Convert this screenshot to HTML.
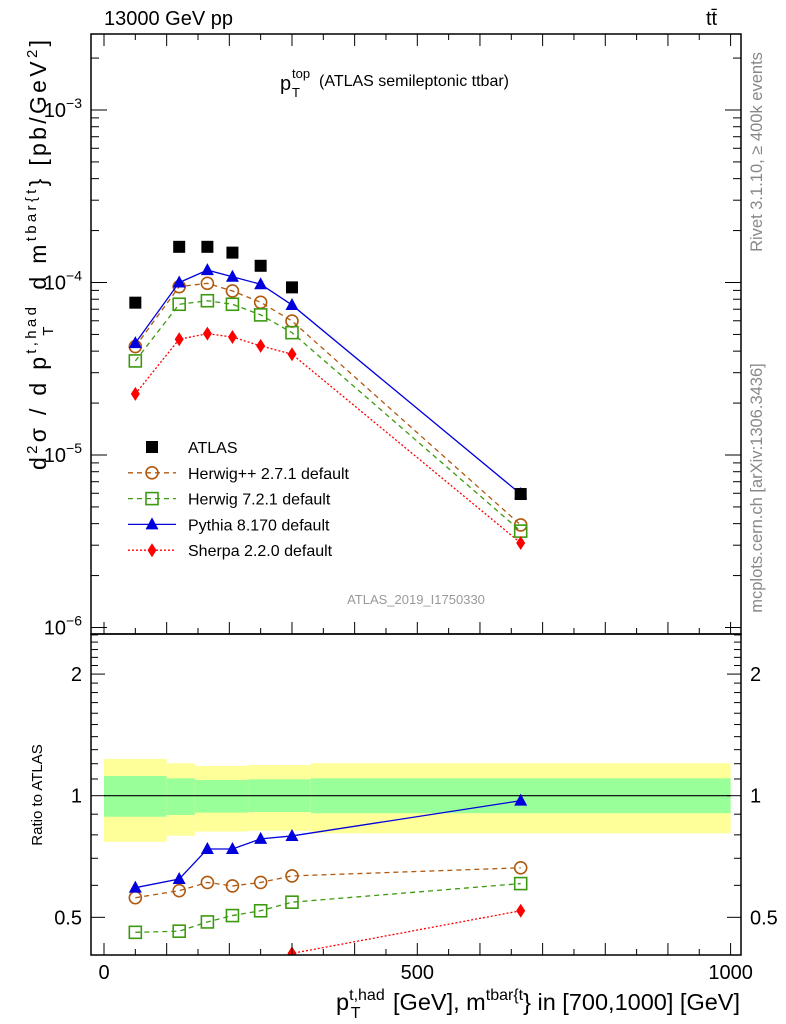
<!DOCTYPE html>
<html><head><meta charset="utf-8"><style>
html,body{margin:0;padding:0;background:#fff;}
svg{display:block;font-family:"Liberation Sans",sans-serif;}
</style></head><body>
<svg id="c" width="786" height="1024" viewBox="0 0 786 1024">
<rect x="0" y="0" width="786" height="1024" fill="#fff"/>
<g id="ratioBands"></g>
<g id="marks"></g>
<g id="axes" stroke="#000" fill="none"></g>
<text x="104" y="25" font-size="20">13000 GeV pp</text>
<text x="706" y="25" font-size="20">tt̄</text>
<text x="280" y="90" font-size="20">p</text>
<text x="292" y="78" font-size="13">top</text>
<text x="292" y="97" font-size="13">T</text>
<text x="319" y="86" font-size="16">(ATLAS semileptonic ttbar)</text>
<text x="416" y="604" font-size="13" fill="#999" text-anchor="middle">ATLAS_2019_I1750330</text>
<text transform="translate(762,152) rotate(-90)" font-size="16.5" fill="#888" text-anchor="middle">Rivet 3.1.10, ≥ 400k events</text>
<text transform="translate(762,488) rotate(-90)" font-size="16.5" fill="#888" text-anchor="middle">mcplots.cern.ch [arXiv:1306.3436]</text>
<text transform="translate(46,470) rotate(-90)" font-size="23" text-anchor="start" textLength="430" lengthAdjust="spacing">d<tspan font-size="15" baseline-shift="9">2</tspan>σ / d p<tspan font-size="15" baseline-shift="10">t,had</tspan><tspan font-size="15" baseline-shift="-7" dx="-32">T</tspan><tspan dx="24"> d m</tspan><tspan font-size="15" baseline-shift="10">tbar{t</tspan>} [pb/GeV<tspan font-size="15" baseline-shift="9">2</tspan>]</text>
<text transform="translate(42,795) rotate(-90)" font-size="15" text-anchor="middle">Ratio to ATLAS</text>
<text x="740" y="1010" font-size="23.5" text-anchor="end">p<tspan font-size="16" baseline-shift="10">t,had</tspan><tspan font-size="16" baseline-shift="-8" dx="-34">T</tspan><tspan dx="26"> [GeV], m</tspan><tspan font-size="16" baseline-shift="10">tbar{t</tspan>} in [700,1000] [GeV]</text>
<g id="legend"></g>
</svg>
<script>
const xs = [50, 120, 165, 205, 250, 300, 665];
const atlas = [7.64e-5, 1.61e-4, 1.61e-4, 1.49e-4, 1.25e-4, 9.37e-5, 5.94e-6];
const herwigpp = [4.25e-5, 9.46e-5, 9.89e-5, 8.93e-5, 7.68e-5, 5.98e-5, 3.93e-6];
const herwig7 = [3.51e-5, 7.48e-5, 7.84e-5, 7.48e-5, 6.49e-5, 5.12e-5, 3.62e-6];
const pythia = [4.45e-5, 1.00e-4, 1.18e-4, 1.08e-4, 9.77e-5, 7.41e-5, 5.94e-6];
const sherpa = [2.26e-5, 4.69e-5, 5.05e-5, 4.83e-5, 4.29e-5, 3.84e-5, 3.09e-6];
const rHerwigpp = [0.559, 0.582, 0.610, 0.598, 0.610, 0.633, 0.663];
const rHerwig7 = [0.459, 0.462, 0.487, 0.505, 0.519, 0.545, 0.606];
const rPythia = [0.592, 0.622, 0.738, 0.738, 0.782, 0.795, 0.972];
const rSherpa = [0.25, 0.3, 0.3, 0.3, 0.3, 0.407, 0.519];
const bandEdges = [0, 100, 145, 230, 330, 1000];
const yellowHi = [1.233, 1.203, 1.185, 1.191, 1.203];
const greenHi = [1.119, 1.104, 1.094, 1.098, 1.104];
const greenLo = [0.887, 0.896, 0.908, 0.911, 0.905];
const yellowLo = [0.769, 0.796, 0.815, 0.819, 0.807];
const NS='http://www.w3.org/2000/svg';
const L=91,R=741,T=34,MB=634,RB=955;
const X=v=>104+v*0.6266;
const Y=v=>110-(Math.log10(v)+3)*172.5;
const YR=v=>795.7-Math.log10(v)*404;
function mk(tag,at,parent){const e=document.createElementNS(NS,tag);for(const k in at)e.setAttribute(k,at[k]);parent.appendChild(e);return e;}
const bands=document.getElementById('ratioBands'),marks=document.getElementById('marks'),axes=document.getElementById('axes'),leg=document.getElementById('legend');
for(let i=0;i<yellowHi.length;i++){
 const x1=X(bandEdges[i]),x2=X(bandEdges[i+1]);
 const y=mk('rect',{x:x1,y:YR(yellowHi[i]),width:x2-x1,height:YR(yellowLo[i])-YR(yellowHi[i]),fill:'#ffff99'},bands);
 
 
 const g=mk('rect',{x:x1,y:YR(greenHi[i]),width:x2-x1,height:YR(greenLo[i])-YR(greenHi[i]),fill:'#99ff99'},bands);
 
 
}
const clip=mk('clipPath',{id:'cr'},document.getElementById('c'));mk('rect',{x:L,y:MB,width:R-L,height:RB-MB},clip);
const ref=mk('line',{x1:X(0),x2:X(1000),y1:YR(1),y2:YR(1),stroke:'#000','stroke-width':1.2},marks);


function marker(kind,x,y,col,p){
 let e;
 if(kind==='sq')e=mk('rect',{x:x-6,y:y-6,width:12,height:12,fill:'#000'},p);
 else if(kind==='circ')e=mk('circle',{cx:x,cy:y,r:6,fill:'none',stroke:col,'stroke-width':1.6},p);
 else if(kind==='osq')e=mk('rect',{x:x-6,y:y-6,width:12,height:12,fill:'none',stroke:col,'stroke-width':1.6},p);
 else if(kind==='tri')e=mk('polygon',{points:`${x},${y-7} ${x-6.5},${y+5} ${x+6.5},${y+5}`,fill:col},p);
 else e=mk('polygon',{points:`${x},${y-7} ${x-4.5},${y} ${x},${y+7} ${x+4.5},${y}`,fill:col},p);
 return e;
}
const series=[
 {name:'herwigpp',label:'Herwig++ 2.7.1 default',m:herwigpp,r:rHerwigpp,col:'#b05a10',dash:'5,4',mk:'circ'},
 {name:'herwig7',label:'Herwig 7.2.1 default',m:herwig7,r:rHerwig7,col:'#3c9a10',dash:'5,4',mk:'osq'},
 {name:'pythia',label:'Pythia 8.170 default',m:pythia,r:rPythia,col:'#0000dd',dash:'',mk:'tri'},
 {name:'sherpa',label:'Sherpa 2.2.0 default',m:sherpa,r:rSherpa,col:'#ff0000',dash:'2,2',mk:'dia'}];
series.forEach(s=>{
 const g=mk('g',{},marks);
 
 
 const pl=mk('polyline',{points:xs.map((x,i)=>X(x)+','+Y(s.m[i])).join(' '),fill:'none',stroke:s.col,'stroke-width':1.3,'stroke-dasharray':s.dash},g);
 
 
 xs.forEach((x,i)=>{const e=marker(s.mk,X(x),Y(s.m[i]),s.col,g);
  
  });
 const gr=mk('g',{'clip-path':'url(#cr)'},marks);
 
 
 mk('polyline',{points:xs.map((x,i)=>X(x)+','+YR(s.r[i])).join(' '),fill:'none',stroke:s.col,'stroke-width':1.3,'stroke-dasharray':s.dash},gr);
 xs.forEach((x,i)=>{const e=marker(s.mk,X(x),YR(s.r[i]),s.col,gr);
  
  });
});
xs.forEach((x,i)=>{const e=marker('sq',X(x),Y(atlas[i]),'#000',marks);
 
 });
const lx=152,ly0=447,dy=25.8;
const le=marker('sq',lx,ly0,'#000',leg);


const lt=mk('text',{x:188,y:ly0+6,'font-size':16},leg);lt.textContent='ATLAS';


series.forEach((s,i)=>{const y=ly0+dy*(i+1);
 mk('line',{x1:128,x2:176,y1:y,y2:y,stroke:s.col,'stroke-width':1.3,'stroke-dasharray':s.dash},leg);
 marker(s.mk,lx,y,s.col,leg);
 const t=mk('text',{x:188,y:y+6,'font-size':16},leg);t.textContent=s.label;
 
 });
mk('rect',{x:L,y:T,width:R-L,height:MB-T,'stroke-width':1.5},axes);
mk('rect',{x:L,y:MB,width:R-L,height:RB-MB,'stroke-width':1.5},axes);
for(let v=0;v<=1000;v+=50){const maj=v%100===0, x=X(v);
 [MB,RB].forEach(b=>mk('line',{x1:x,x2:x,y1:b,y2:b-(maj?12:6)},axes));
 mk('line',{x1:x,x2:x,y1:T,y2:T+(maj?12:6)},axes);}
[[0,'0'],[500,'500'],[1000,'1000']].forEach(([v,s])=>{const t=mk('text',{x:X(v),y:979,'font-size':20,'text-anchor':'middle',fill:'#000',stroke:'none'},axes);t.textContent=s;
 
 });
for(let d=-7;d<=-2;d++)for(let k=1;k<10;k++){const v=k*Math.pow(10,d),y=Y(v);if(y<T||y>MB)continue;
 const len=k===1?16:8;mk('line',{x1:L,x2:L+len,y1:y,y2:y},axes);mk('line',{x1:R,x2:R-len,y1:y,y2:y},axes);}
[-3,-4,-5,-6].forEach(d=>{const t=mk('text',{x:82,y:Y(Math.pow(10,d))+7,'font-size':20,'text-anchor':'end',fill:'#000',stroke:'none'},axes);
 t.innerHTML='10<tspan font-size="14" dy="-9">−'+(-d)+'</tspan>';
 
 });
[0.4,0.5,0.6,0.7,0.8,0.9,1,1.1,1.2,1.3,1.4,1.5,1.6,1.7,1.8,1.9,2,2.1,2.2,2.3,2.4,2.5].forEach(v=>{const y=YR(v);if(y<MB||y>RB)return;
 const maj=[0.5,1,2].some(m=>Math.abs(m-v)<1e-6),len=maj?14:7;
 mk('line',{x1:L,x2:L+len,y1:y,y2:y},axes);mk('line',{x1:R,x2:R-len,y1:y,y2:y},axes);});
[[0.5,'0.5'],[1,'1'],[2,'2']].forEach(([v,s])=>{[[82,'end'],[750,'start']].forEach(([x,a])=>{
 const t=mk('text',{x:x,y:YR(v)+7,'font-size':20,'text-anchor':a,fill:'#000',stroke:'none'},axes);t.textContent=s;
 
 });});
</script>
</body></html>
